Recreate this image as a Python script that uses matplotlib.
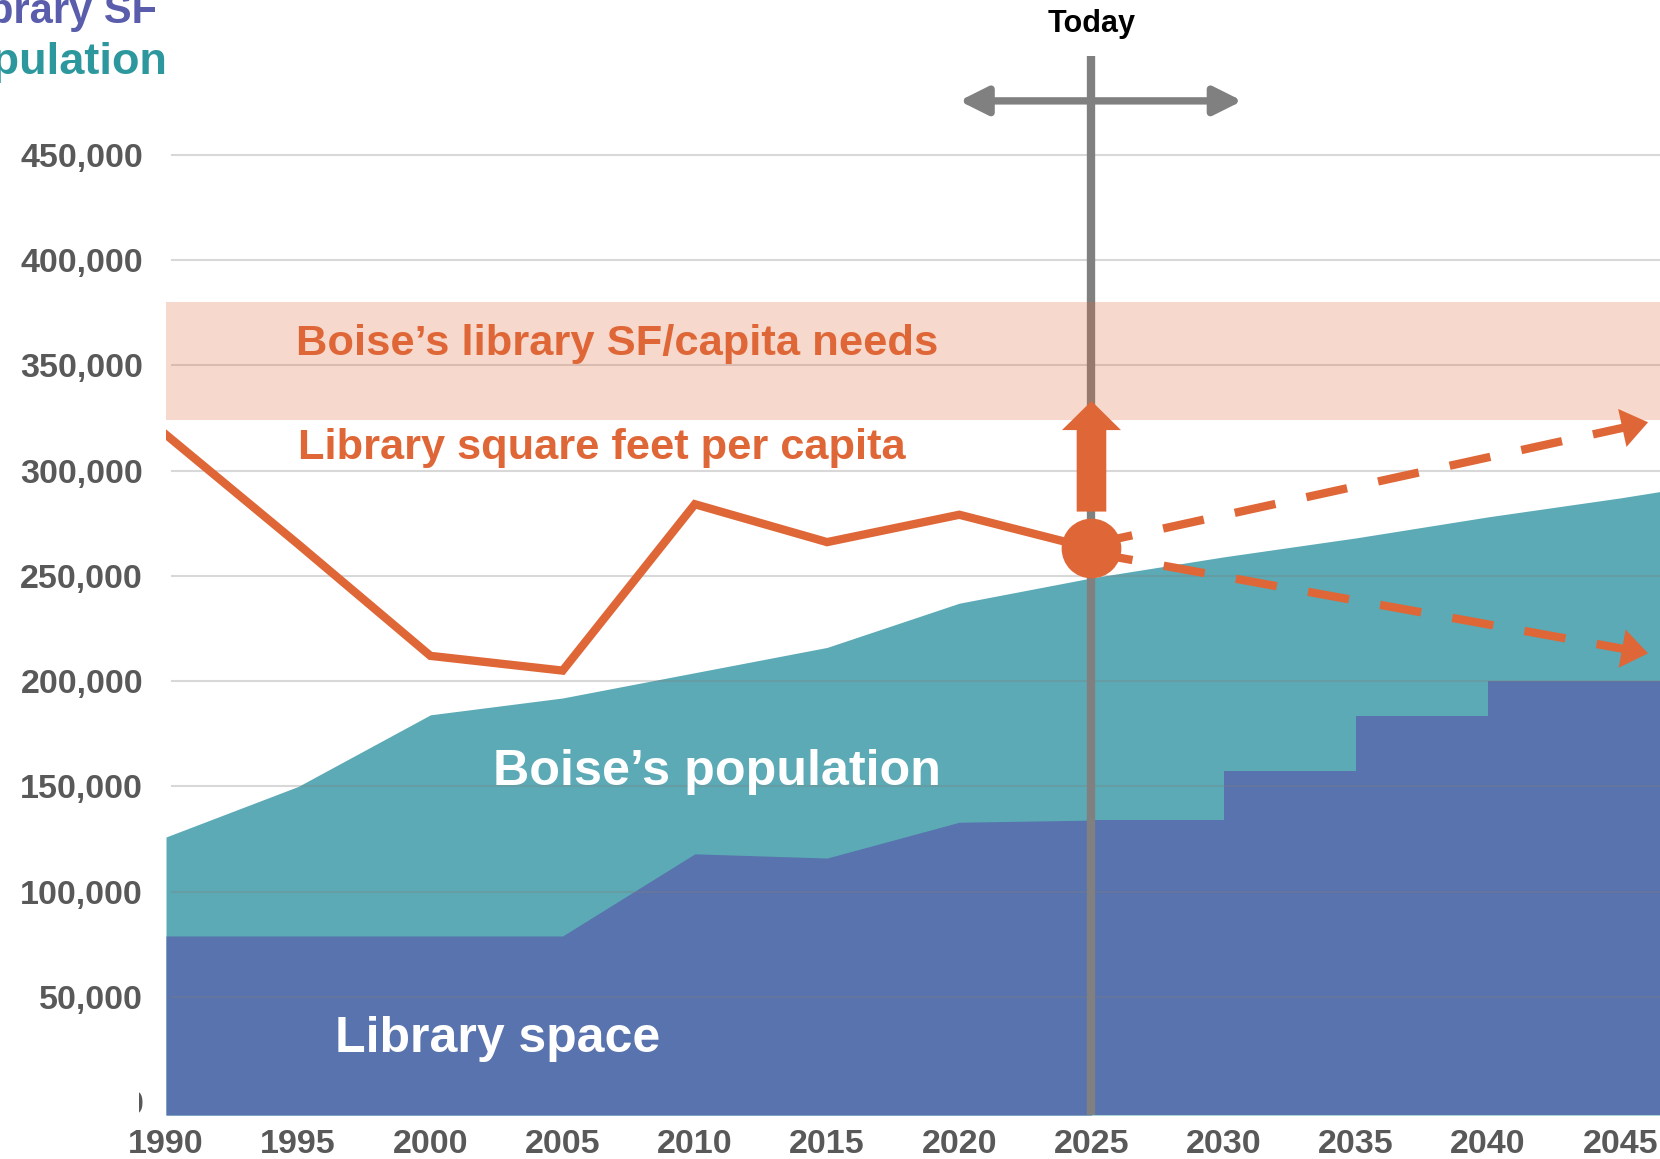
import numpy as np
import matplotlib.pyplot as plt
from matplotlib.patches import FancyArrow, Rectangle

plt.rcParams['font.family'] = ['Liberation Sans', 'DejaVu Sans']
plt.rcParams['font.weight'] = 'bold'

# population (teal area)
years = [1990, 1995, 2000, 2005, 2010, 2015, 2020, 2025, 2030, 2035, 2040, 2045, 2046.5]
population = [126000, 150000, 184000, 192000, 204000, 216000, 237000, 249000,
              259000, 268000, 278000, 287000, 290000]

# library space, historic and planned steps
lib_years = [1990, 1995, 2000, 2005, 2010, 2015, 2020, 2025]
lib_space = [79000, 79000, 79000, 79000, 118000, 116000, 133000, 134000]
plan_years = [2025, 2030, 2035, 2040, 2046.5]
plan_space = [134000, 157500, 183500, 200000, 200000]

# library sf per capita (scaled to the same axis)
sf_years = [1990, 1995, 2000, 2005, 2010, 2015, 2020, 2025]
sf_capita = [317000, 265000, 212000, 205000, 284000, 266000, 279000, 263000]

# projections from today
proj_years = [2025, 2046.05]
proj_high = [265000, 322900]
proj_low = [261000, 213200]

needs_band = [324000, 380000]
up_arrow = [280500, 333000]
today = 2025
today_span = [2020.0, 2030.7]

yticks = list(range(0, 500000, 50000))
ytick_labels = ['{:,}'.format(v) for v in yticks]
xticks = list(range(1990, 2050, 5))

orange = '#DF6737'
teal = '#5BAAB5'
purple = '#5873AD'
gray = '#808080'
tick_col = '#595959'

fig = plt.figure(figsize=(16.6, 11.59), dpi=100)
ax = fig.add_axes([166/1660, 44/1159, 1 - 166/1660, 1 - 44/1159])
ax.set_xlim(1990, 2046.5)
ax.set_ylim(-6000, 523400)
y0 = ax.get_ylim()[0]

# areas
ax.fill_between(years, y0, population, color=teal, lw=0, zorder=1)
ax.fill_between(lib_years, y0, lib_space, color=purple, lw=0, zorder=1.1)
ax.fill_between(plan_years, y0, plan_space, step='post', color=purple, lw=0, zorder=1.1)

# grid
for v in yticks[1:]:
    ax.axhline(v, xmin=0.004, color=gray, alpha=0.3, lw=1.5, zorder=2)

# today line + arrow
ax.plot([today, today], [y0, 497000], color=gray, lw=6, solid_capstyle='butt', zorder=3)
ax.annotate('', xy=(today_span[1], 475500), xytext=(today_span[0], 475500),
            arrowprops=dict(arrowstyle='<|-|>,head_length=1.0,head_width=0.5',
                            mutation_scale=17, color=gray, lw=5.3,
                            shrinkA=0, shrinkB=0), zorder=3)
ax.text(today, 512000, 'Today', ha='center', va='center', fontsize=22,
        color='black')

# needs band
ax.axhspan(needs_band[0], needs_band[1], color=orange, alpha=0.25, lw=0, zorder=4)

# sf per capita line
ax.plot(sf_years, sf_capita, color=orange, lw=6, solid_joinstyle='miter', zorder=5)
ax.plot(sf_years[-1], sf_capita[-1], 'o', ms=42, color=orange, zorder=6)

# dashed projections with heads
head_len = 0.95
for proj in (proj_high, proj_low):
    xb = proj_years[1] - head_len
    yb = np.interp(xb, proj_years, proj)
    ax.plot([proj_years[0], xb], [proj[0], yb], color=orange, lw=6,
            linestyle=(0, (5, 3.8)), dash_capstyle='butt', zorder=5)
    ax.annotate('', xy=(proj_years[1], proj[1]), xytext=(xb, yb),
                arrowprops=dict(arrowstyle='-|>,head_length=0.95,head_width=0.7',
                                mutation_scale=20, color=orange, lw=0,
                                shrinkA=0, shrinkB=0), zorder=6)

ax.add_patch(FancyArrow(today, up_arrow[0], 0, up_arrow[1] - up_arrow[0], width=1.12,
                        head_width=2.23, head_length=13800, length_includes_head=True,
                        color=orange, lw=0, zorder=6))

# labels
ax.text(1994.92, 355000, 'Boise\u2019s library SF/capita needs', fontsize=31.3,
        color=orange, va='baseline', zorder=7)
ax.text(1995.0, 305500, 'Library square feet per capita', fontsize=31.2,
        color=orange, va='baseline', zorder=7)
ax.text(2002.37, 150500, 'Boise\u2019s population', fontsize=36.2,
        color='white', va='baseline', zorder=7)
ax.text(1996.39, 23900, 'Library space', fontsize=36,
        color='white', va='baseline', zorder=7)

# axes
for s in ax.spines.values():
    s.set_visible(False)
ax.set_yticks(yticks)
ax.set_yticklabels(ytick_labels)
ax.set_xticks(xticks)
ax.set_xticklabels([str(x) for x in xticks])
ax.tick_params(axis='y', length=0, pad=16.5, labelsize=24.5, labelcolor=tick_col)
ax.tick_params(axis='x', length=0, pad=10, labelsize=24.5, labelcolor=tick_col)

# cover most of the zero label like the original
fig.add_artist(Rectangle((0, (1159 - 1125) / 1159), 139 / 1660, 48 / 1159,
                         transform=fig.transFigure, color='white', lw=0, zorder=5))

fig.text(157/1660, 1 - 23/1159, 'Library SF', ha='right', va='baseline',
         fontsize=30, color='#5A5DAB')
fig.text(167/1660, 1 - 74/1159, 'Population', ha='right', va='baseline',
         fontsize=32.5, color='#2C989E')

fig.savefig('out.png', dpi=100)
